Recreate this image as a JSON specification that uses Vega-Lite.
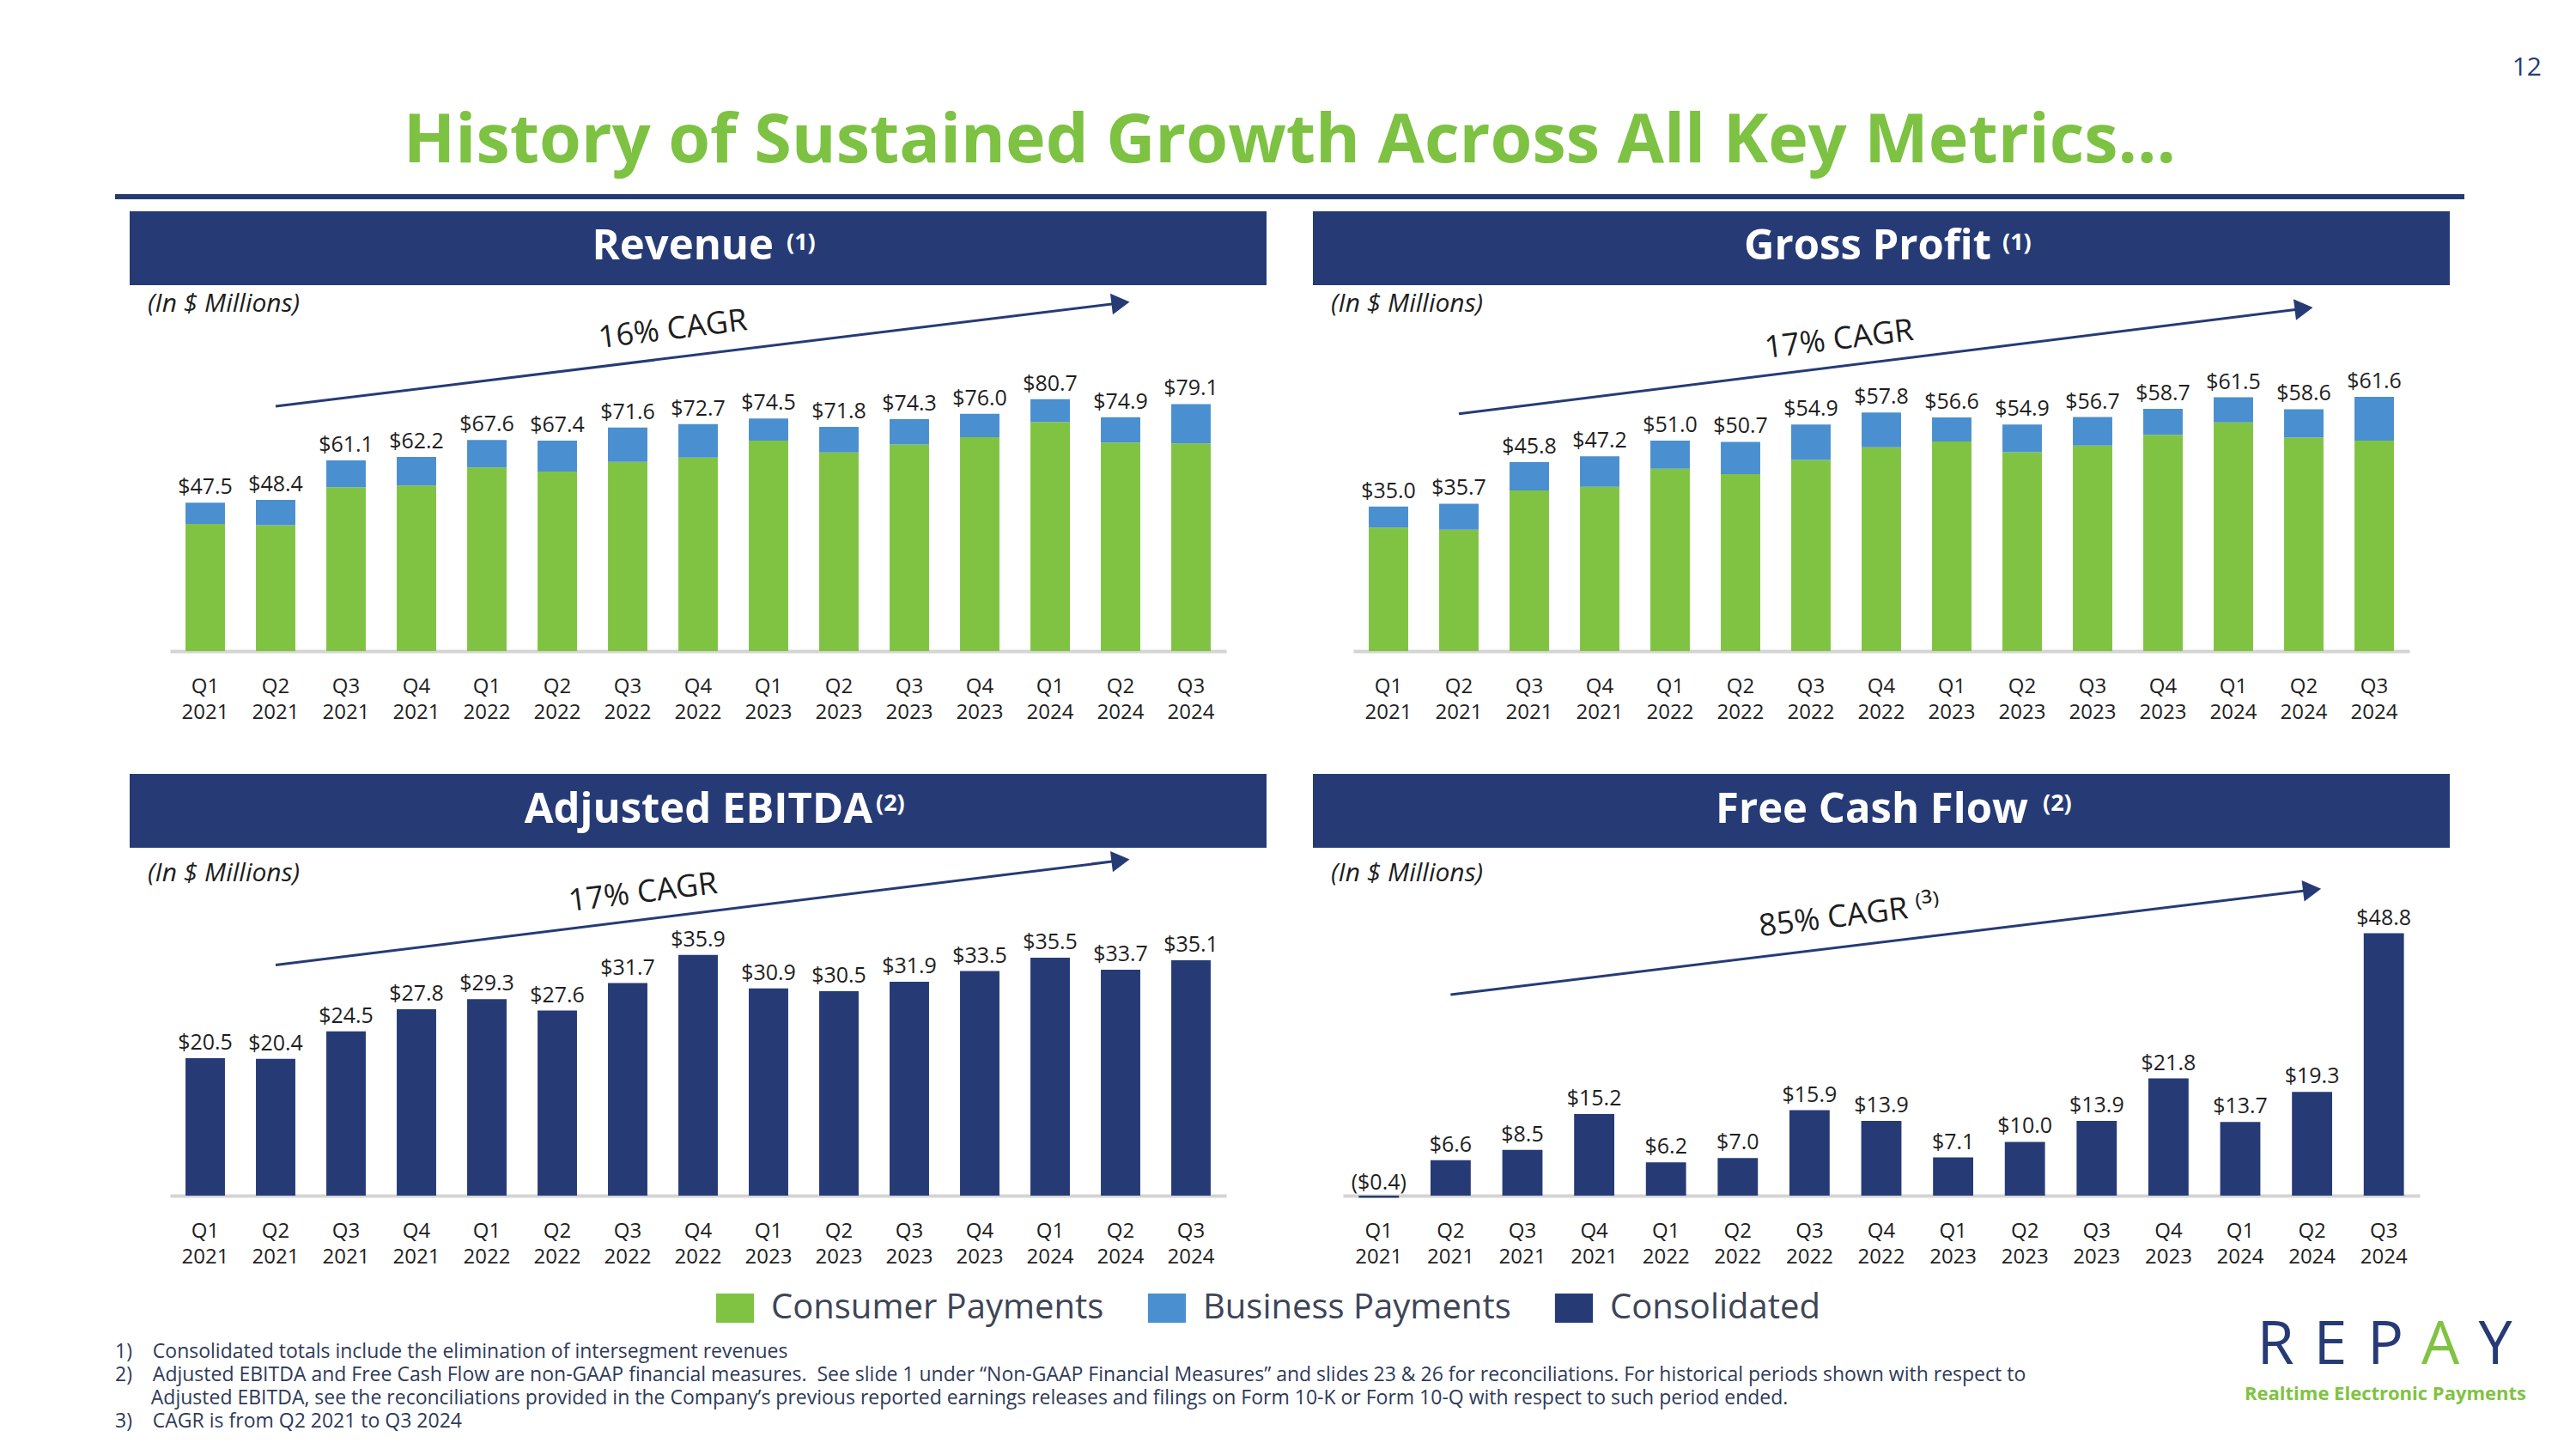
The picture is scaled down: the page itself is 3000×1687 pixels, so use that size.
{
  "$schema": "https://vega.github.io/schema/vega-lite/v6.json",
  "background": "white",
  "padding": {"left": 134, "top": 64, "right": 20, "bottom": 8},
  "title": {"text": "12", "anchor": "end", "fontSize": 30, "fontWeight": "normal", "color": "#263B76", "offset": 8, "dx": 18, "baseline": "alphabetic"},
  "config": {
    "font": "Open Sans",
    "view": {"stroke": null},
    "axisX": {"labelFontSize": 24, "labelColor": "#1E1E1E", "labelLineHeight": 30, "labelPadding": 29, "labelAngle": 0, "ticks": false, "domainColor": "#D4D4D4", "domainWidth": 4, "grid": false, "labelExpr": "split(datum.label, ' ')"},
    "text": {"font": "Open Sans"},
    "title": {"font": "Open Sans"}
  },
  "spacing": 12,
  "resolve": {"scale": {"color": "independent"}, "legend": {"color": "independent"}},
  "vconcat": [
    {
      "spacing": 12,
      "center": true,
      "vconcat": [
        {
          "width": 2736, "height": 6,
          "view": {"fill": "#263B76", "stroke": null},
          "title": {"text": "History of Sustained Growth Across All Key Metrics…", "anchor": "middle", "fontSize": 79, "fontWeight": "bold", "color": "#7DC242", "offset": -45, "baseline": "alphabetic"},
          "data": {"values": [{}]},
          "mark": {"type": "text", "text": ""}
        },
        {
          "spacing": 60,
          "vconcat": [
            {
              "spacing": 54,
              "hconcat": [
                {
                  "spacing": 8, "center": true, "bounds": "flush",
                  "vconcat": [
                    {
                      "width": 1324, "height": 86,
                      "view": {"fill": "#263B76", "stroke": null},
                      "data": {"values": [{"name": "Revenue", "note": "(1)"}]},
                      "title": {"text": "(In $ Millions)", "orient": "bottom", "anchor": "start", "frame": "group", "dx": 21, "offset": 7, "fontSize": 30, "fontStyle": "italic", "fontWeight": "normal", "color": "#1E1E1E"},
                      "layer": [
                        {"mark": {"type": "text", "align": "right", "baseline": "alphabetic", "dx": 88, "dy": 13, "fontSize": 49, "fontWeight": "bold", "color": "white"}, "encoding": {"text": {"field": "name"}}},
                        {"mark": {"type": "text", "align": "left", "baseline": "alphabetic", "dx": 103, "dy": 2, "fontSize": 27, "fontWeight": "bold", "color": "white"}, "encoding": {"text": {"field": "note"}}}
                      ]
                    },
                    {
                      "width": 1230, "height": 418,
                      "encoding": {
                        "x": {"field": "q", "type": "ordinal", "sort": null, "title": null, "scale": {"domain": ["Q1 2021","Q2 2021","Q3 2021","Q4 2021","Q1 2022","Q2 2022","Q3 2022","Q4 2022","Q1 2023","Q2 2023","Q3 2023","Q4 2023","Q1 2024","Q2 2024","Q3 2024"], "paddingInner": 0.44, "paddingOuter": 0.22}},
                        "y": {"field": "v", "type": "quantitative", "scale": {"domain": [0, 115], "nice": false}, "axis": null}
                      },
                      "layer": [
                        {
                          "data": {"name": "revenue", "values": [
                            {"q": "Q1 2021", "segment": "Consumer Payments", "v": 40.7}, {"q": "Q1 2021", "segment": "Business Payments", "v": 6.8},
                            {"q": "Q2 2021", "segment": "Consumer Payments", "v": 40.3}, {"q": "Q2 2021", "segment": "Business Payments", "v": 8.1},
                            {"q": "Q3 2021", "segment": "Consumer Payments", "v": 52.5}, {"q": "Q3 2021", "segment": "Business Payments", "v": 8.6},
                            {"q": "Q4 2021", "segment": "Consumer Payments", "v": 53.0}, {"q": "Q4 2021", "segment": "Business Payments", "v": 9.2},
                            {"q": "Q1 2022", "segment": "Consumer Payments", "v": 58.8}, {"q": "Q1 2022", "segment": "Business Payments", "v": 8.8},
                            {"q": "Q2 2022", "segment": "Consumer Payments", "v": 57.5}, {"q": "Q2 2022", "segment": "Business Payments", "v": 9.9},
                            {"q": "Q3 2022", "segment": "Consumer Payments", "v": 60.6}, {"q": "Q3 2022", "segment": "Business Payments", "v": 11.0},
                            {"q": "Q4 2022", "segment": "Consumer Payments", "v": 62.0}, {"q": "Q4 2022", "segment": "Business Payments", "v": 10.7},
                            {"q": "Q1 2023", "segment": "Consumer Payments", "v": 67.4}, {"q": "Q1 2023", "segment": "Business Payments", "v": 7.1},
                            {"q": "Q2 2023", "segment": "Consumer Payments", "v": 63.6}, {"q": "Q2 2023", "segment": "Business Payments", "v": 8.2},
                            {"q": "Q3 2023", "segment": "Consumer Payments", "v": 66.2}, {"q": "Q3 2023", "segment": "Business Payments", "v": 8.1},
                            {"q": "Q4 2023", "segment": "Consumer Payments", "v": 68.5}, {"q": "Q4 2023", "segment": "Business Payments", "v": 7.5},
                            {"q": "Q1 2024", "segment": "Consumer Payments", "v": 73.4}, {"q": "Q1 2024", "segment": "Business Payments", "v": 7.3},
                            {"q": "Q2 2024", "segment": "Consumer Payments", "v": 66.8}, {"q": "Q2 2024", "segment": "Business Payments", "v": 8.1},
                            {"q": "Q3 2024", "segment": "Consumer Payments", "v": 66.5}, {"q": "Q3 2024", "segment": "Business Payments", "v": 12.6}
                          ]},
                          "mark": {"type": "bar"},
                          "encoding": {
                            "detail": {"field": "segment", "type": "nominal"},
                            "order": {"field": "segment", "type": "nominal", "sort": "descending"},
                            "color": {"condition": {"test": "datum.segment === 'Business Payments'", "value": "#4A8FCF"}, "value": "#80C342"}
                          }
                        },
                        {
                          "data": {"name": "revenue"},
                          "transform": [{"aggregate": [{"op": "sum", "field": "v", "as": "v"}], "groupby": ["q"]}],
                          "mark": {"type": "text", "baseline": "alphabetic", "dy": -10, "fontSize": 25, "color": "#1E1E1E"},
                          "encoding": {"text": {"field": "v", "type": "quantitative", "format": "($.1f"}}
                        },
                        {
                          "data": {"values": [{"q": "Q2 2021", "v": 78.4}, {"q": "Q2 2024", "v": 111.5}]},
                          "mark": {"type": "line", "color": "#263B76", "strokeWidth": 3},
                          "encoding": {}
                        },
                        {
                          "data": {"values": [{"q": "Q2 2024", "v": 111.5}]},
                          "mark": {"type": "point", "shape": "triangle-right", "size": 600, "filled": true, "opacity": 1, "color": "#263B76", "angle": 353},
                          "encoding": {}
                        },
                        {
                          "data": {"values": [{"q": "Q3 2022", "v": 101.2, "label": "16% CAGR"}]},
                          "mark": {"type": "text", "angle": 353, "dx": 53, "fontSize": 36, "color": "#1E1E1E", "baseline": "middle"},
                          "encoding": {"text": {"field": "label"}}
                        }
                      ]
                    }
                  ]
                },
                {
                  "spacing": 8, "center": true, "bounds": "flush",
                  "vconcat": [
                    {
                      "width": 1324, "height": 86,
                      "view": {"fill": "#263B76", "stroke": null},
                      "data": {"values": [{"name": "Gross Profit", "note": "(1)"}]},
                      "title": {"text": "(In $ Millions)", "orient": "bottom", "anchor": "start", "frame": "group", "dx": 21, "offset": 7, "fontSize": 30, "fontStyle": "italic", "fontWeight": "normal", "color": "#1E1E1E"},
                      "layer": [
                        {"mark": {"type": "text", "align": "right", "baseline": "alphabetic", "dx": 128, "dy": 13, "fontSize": 49, "fontWeight": "bold", "color": "white"}, "encoding": {"text": {"field": "name"}}},
                        {"mark": {"type": "text", "align": "left", "baseline": "alphabetic", "dx": 141, "dy": 2, "fontSize": 27, "fontWeight": "bold", "color": "white"}, "encoding": {"text": {"field": "note"}}}
                      ]
                    },
                    {
                      "width": 1230, "height": 418,
                      "encoding": {
                        "x": {"field": "q", "type": "ordinal", "sort": null, "title": null, "scale": {"domain": ["Q1 2021","Q2 2021","Q3 2021","Q4 2021","Q1 2022","Q2 2022","Q3 2022","Q4 2022","Q1 2023","Q2 2023","Q3 2023","Q4 2023","Q1 2024","Q2 2024","Q3 2024"], "paddingInner": 0.44, "paddingOuter": 0.22}},
                        "y": {"field": "v", "type": "quantitative", "scale": {"domain": [0, 87], "nice": false}, "axis": null}
                      },
                      "layer": [
                        {
                          "data": {"name": "grossprofit", "values": [
                            {"q": "Q1 2021", "segment": "Consumer Payments", "v": 29.9}, {"q": "Q1 2021", "segment": "Business Payments", "v": 5.1},
                            {"q": "Q2 2021", "segment": "Consumer Payments", "v": 29.4}, {"q": "Q2 2021", "segment": "Business Payments", "v": 6.3},
                            {"q": "Q3 2021", "segment": "Consumer Payments", "v": 38.9}, {"q": "Q3 2021", "segment": "Business Payments", "v": 6.9},
                            {"q": "Q4 2021", "segment": "Consumer Payments", "v": 39.8}, {"q": "Q4 2021", "segment": "Business Payments", "v": 7.4},
                            {"q": "Q1 2022", "segment": "Consumer Payments", "v": 44.2}, {"q": "Q1 2022", "segment": "Business Payments", "v": 6.8},
                            {"q": "Q2 2022", "segment": "Consumer Payments", "v": 42.9}, {"q": "Q2 2022", "segment": "Business Payments", "v": 7.8},
                            {"q": "Q3 2022", "segment": "Consumer Payments", "v": 46.3}, {"q": "Q3 2022", "segment": "Business Payments", "v": 8.6},
                            {"q": "Q4 2022", "segment": "Consumer Payments", "v": 49.4}, {"q": "Q4 2022", "segment": "Business Payments", "v": 8.4},
                            {"q": "Q1 2023", "segment": "Consumer Payments", "v": 50.8}, {"q": "Q1 2023", "segment": "Business Payments", "v": 5.8},
                            {"q": "Q2 2023", "segment": "Consumer Payments", "v": 48.2}, {"q": "Q2 2023", "segment": "Business Payments", "v": 6.7},
                            {"q": "Q3 2023", "segment": "Consumer Payments", "v": 49.8}, {"q": "Q3 2023", "segment": "Business Payments", "v": 6.9},
                            {"q": "Q4 2023", "segment": "Consumer Payments", "v": 52.4}, {"q": "Q4 2023", "segment": "Business Payments", "v": 6.3},
                            {"q": "Q1 2024", "segment": "Consumer Payments", "v": 55.4}, {"q": "Q1 2024", "segment": "Business Payments", "v": 6.1},
                            {"q": "Q2 2024", "segment": "Consumer Payments", "v": 51.7}, {"q": "Q2 2024", "segment": "Business Payments", "v": 6.9},
                            {"q": "Q3 2024", "segment": "Consumer Payments", "v": 51.0}, {"q": "Q3 2024", "segment": "Business Payments", "v": 10.6}
                          ]},
                          "mark": {"type": "bar"},
                          "encoding": {
                            "detail": {"field": "segment", "type": "nominal"},
                            "order": {"field": "segment", "type": "nominal", "sort": "descending"},
                            "color": {"condition": {"test": "datum.segment === 'Business Payments'", "value": "#4A8FCF"}, "value": "#80C342"}
                          }
                        },
                        {
                          "data": {"name": "grossprofit"},
                          "transform": [{"aggregate": [{"op": "sum", "field": "v", "as": "v"}], "groupby": ["q"]}],
                          "mark": {"type": "text", "baseline": "alphabetic", "dy": -10, "fontSize": 25, "color": "#1E1E1E"},
                          "encoding": {"text": {"field": "v", "type": "quantitative", "format": "($.1f"}}
                        },
                        {
                          "data": {"values": [{"q": "Q2 2021", "v": 57.5}, {"q": "Q2 2024", "v": 83.0}]},
                          "mark": {"type": "line", "color": "#263B76", "strokeWidth": 3},
                          "encoding": {}
                        },
                        {
                          "data": {"values": [{"q": "Q2 2024", "v": 83.0}]},
                          "mark": {"type": "point", "shape": "triangle-right", "size": 600, "filled": true, "opacity": 1, "color": "#263B76", "angle": 353},
                          "encoding": {}
                        },
                        {
                          "data": {"values": [{"q": "Q3 2022", "v": 74.6, "label": "17% CAGR"}]},
                          "mark": {"type": "text", "angle": 353, "dx": 33, "fontSize": 36, "color": "#1E1E1E", "baseline": "middle"},
                          "encoding": {"text": {"field": "label"}}
                        }
                      ]
                    }
                  ]
                }
              ]
            },
            {
              "spacing": 54,
              "hconcat": [
                {
                  "spacing": 7, "center": true, "bounds": "flush",
                  "vconcat": [
                    {
                      "width": 1324, "height": 86,
                      "view": {"fill": "#263B76", "stroke": null},
                      "data": {"values": [{"name": "Adjusted EBITDA", "note": "(2)"}]},
                      "title": {"text": "(In $ Millions)", "orient": "bottom", "anchor": "start", "frame": "group", "dx": 21, "offset": 15, "fontSize": 30, "fontStyle": "italic", "fontWeight": "normal", "color": "#1E1E1E"},
                      "layer": [
                        {"mark": {"type": "text", "align": "right", "baseline": "alphabetic", "dx": 203, "dy": 14, "fontSize": 49, "fontWeight": "bold", "color": "white"}, "encoding": {"text": {"field": "name"}}},
                        {"mark": {"type": "text", "align": "left", "baseline": "alphabetic", "dx": 207, "dy": 0, "fontSize": 27, "fontWeight": "bold", "color": "white"}, "encoding": {"text": {"field": "note"}}}
                      ]
                    },
                    {
                      "width": 1230, "height": 398,
                      "encoding": {
                        "x": {"field": "q", "type": "ordinal", "sort": null, "title": null, "scale": {"domain": ["Q1 2021","Q2 2021","Q3 2021","Q4 2021","Q1 2022","Q2 2022","Q3 2022","Q4 2022","Q1 2023","Q2 2023","Q3 2023","Q4 2023","Q1 2024","Q2 2024","Q3 2024"], "paddingInner": 0.44, "paddingOuter": 0.22}},
                        "y": {"field": "v", "type": "quantitative", "scale": {"domain": [0, 51], "nice": false}, "axis": null}
                      },
                      "layer": [
                        {
                          "data": {"name": "ebitda", "values": [
                            {"q": "Q1 2021", "v": 20.5}, {"q": "Q2 2021", "v": 20.4}, {"q": "Q3 2021", "v": 24.5}, {"q": "Q4 2021", "v": 27.8},
                            {"q": "Q1 2022", "v": 29.3}, {"q": "Q2 2022", "v": 27.6}, {"q": "Q3 2022", "v": 31.7}, {"q": "Q4 2022", "v": 35.9},
                            {"q": "Q1 2023", "v": 30.9}, {"q": "Q2 2023", "v": 30.5}, {"q": "Q3 2023", "v": 31.9}, {"q": "Q4 2023", "v": 33.5},
                            {"q": "Q1 2024", "v": 35.5}, {"q": "Q2 2024", "v": 33.7}, {"q": "Q3 2024", "v": 35.1}
                          ]},
                          "mark": {"type": "bar", "color": "#263B76"}
                        },
                        {
                          "data": {"name": "ebitda"},
                          "mark": {"type": "text", "baseline": "alphabetic", "dy": -10, "fontSize": 25, "color": "#1E1E1E"},
                          "encoding": {"text": {"field": "v", "type": "quantitative", "format": "($.1f"}}
                        },
                        {
                          "data": {"values": [{"q": "Q2 2021", "v": 34.4}, {"q": "Q2 2024", "v": 50.0}]},
                          "mark": {"type": "line", "color": "#263B76", "strokeWidth": 3},
                          "encoding": {}
                        },
                        {
                          "data": {"values": [{"q": "Q2 2024", "v": 50.0}]},
                          "mark": {"type": "point", "shape": "triangle-right", "size": 600, "filled": true, "opacity": 1, "color": "#263B76", "angle": 353},
                          "encoding": {}
                        },
                        {
                          "data": {"values": [{"q": "Q3 2022", "v": 44.9, "label": "17% CAGR"}]},
                          "mark": {"type": "text", "angle": 353, "dx": 18, "fontSize": 36, "color": "#1E1E1E", "baseline": "middle"},
                          "encoding": {"text": {"field": "label"}}
                        }
                      ]
                    }
                  ]
                },
                {
                  "spacing": 7, "center": true, "bounds": "flush",
                  "vconcat": [
                    {
                      "width": 1324, "height": 86,
                      "view": {"fill": "#263B76", "stroke": null},
                      "data": {"values": [{"name": "Free Cash Flow", "note": "(2)"}]},
                      "title": {"text": "(In $ Millions)", "orient": "bottom", "anchor": "start", "frame": "group", "dx": 21, "offset": 15, "fontSize": 30, "fontStyle": "italic", "fontWeight": "normal", "color": "#1E1E1E"},
                      "layer": [
                        {"mark": {"type": "text", "align": "right", "baseline": "alphabetic", "dx": 171, "dy": 14, "fontSize": 49, "fontWeight": "bold", "color": "white"}, "encoding": {"text": {"field": "name"}}},
                        {"mark": {"type": "text", "align": "left", "baseline": "alphabetic", "dx": 188, "dy": 0, "fontSize": 27, "fontWeight": "bold", "color": "white"}, "encoding": {"text": {"field": "note"}}}
                      ]
                    },
                    {
                      "width": 1254, "height": 398,
                      "encoding": {
                        "x": {"field": "q", "type": "ordinal", "sort": null, "title": null, "scale": {"domain": ["Q1 2021","Q2 2021","Q3 2021","Q4 2021","Q1 2022","Q2 2022","Q3 2022","Q4 2022","Q1 2023","Q2 2023","Q3 2023","Q4 2023","Q1 2024","Q2 2024","Q3 2024"], "paddingInner": 0.44, "paddingOuter": 0.22}},
                        "y": {"field": "v", "type": "quantitative", "scale": {"domain": [0, 63.6], "nice": false}, "axis": null}
                      },
                      "layer": [
                        {
                          "data": {"name": "fcf", "values": [
                            {"q": "Q1 2021", "v": -0.4}, {"q": "Q2 2021", "v": 6.6}, {"q": "Q3 2021", "v": 8.5}, {"q": "Q4 2021", "v": 15.2},
                            {"q": "Q1 2022", "v": 6.2}, {"q": "Q2 2022", "v": 7.0}, {"q": "Q3 2022", "v": 15.9}, {"q": "Q4 2022", "v": 13.9},
                            {"q": "Q1 2023", "v": 7.1}, {"q": "Q2 2023", "v": 10.0}, {"q": "Q3 2023", "v": 13.9}, {"q": "Q4 2023", "v": 21.8},
                            {"q": "Q1 2024", "v": 13.7}, {"q": "Q2 2024", "v": 19.3}, {"q": "Q3 2024", "v": 48.8}
                          ]},
                          "mark": {"type": "bar", "color": "#263B76"}
                        },
                        {
                          "data": {"name": "fcf"},
                          "mark": {"type": "text", "baseline": "alphabetic", "dy": -10, "fontSize": 25, "color": "#1E1E1E"},
                          "encoding": {"text": {"field": "v", "type": "quantitative", "format": "($.1f"}}
                        },
                        {
                          "data": {"values": [{"q": "Q2 2021", "v": 37.4}, {"q": "Q2 2024", "v": 56.9}]},
                          "mark": {"type": "line", "color": "#263B76", "strokeWidth": 3},
                          "encoding": {}
                        },
                        {
                          "data": {"values": [{"q": "Q2 2024", "v": 56.9}]},
                          "mark": {"type": "point", "shape": "triangle-right", "size": 600, "filled": true, "opacity": 1, "color": "#263B76", "angle": 353},
                          "encoding": {}
                        },
                        {
                          "data": {"values": [{"q": "Q3 2022", "v": 51.1, "label": "85% CAGR ⁽³⁾"}]},
                          "mark": {"type": "text", "angle": 353, "dx": 47, "fontSize": 36, "color": "#1E1E1E", "baseline": "middle"},
                          "encoding": {"text": {"field": "label"}}
                        }
                      ]
                    }
                  ]
                }
              ]
            }
          ]
        }
      ]
    },
    {
      "spacing": 0,
      "resolve": {"scale": {"color": "independent"}, "legend": {"color": "independent"}},
      "hconcat": [
        {
          "width": 2480, "height": 50,
          "data": {"values": [{"segment": "Consumer Payments"}, {"segment": "Business Payments"}, {"segment": "Consolidated"}]},
          "mark": {"type": "point", "filled": true, "opacity": 0},
          "encoding": {
            "color": {
              "field": "segment", "type": "nominal", "sort": null,
              "scale": {"domain": ["Consumer Payments", "Business Payments", "Consolidated"], "range": ["#80C342", "#4A8FCF", "#263B76"]},
              "legend": {"orient": "none", "legendX": 702, "legendY": 16, "direction": "horizontal", "title": null, "symbolType": "M-1.3,-1L1.3,-1L1.3,1L-1.3,1Z", "symbolSize": 1156, "symbolOpacity": 1, "symbolStrokeWidth": 0, "labelFontSize": 40, "labelColor": "#3D4558", "labelOffset": 22, "columnPadding": 50, "labelLimit": 0}
            }
          },
          "title": {
            "text": [
              "1)\u00a0\u00a0\u00a0\u00a0Consolidated totals include the elimination of intersegment revenues",
              "2)\u00a0\u00a0\u00a0\u00a0Adjusted EBITDA and Free Cash Flow are non-GAAP financial measures.\u00a0 See slide 1 under “Non-GAAP Financial Measures” and slides 23 & 26 for reconciliations. For historical periods shown with respect to",
              "\u200b\u00a0\u00a0\u00a0\u00a0\u00a0\u00a0\u00a0Adjusted EBITDA, see the reconciliations provided in the Company’s previous reported earnings releases and filings on Form 10-K or Form 10-Q with respect to such period ended.",
              "3)\u00a0\u00a0\u00a0\u00a0CAGR is from Q2 2021 to Q3 2024"
            ],
            "orient": "bottom", "anchor": "start", "frame": "group", "offset": 20, "fontSize": 23, "lineHeight": 27, "fontWeight": "normal", "color": "#2E3A59"
          }
        },
        {
          "width": 320, "height": 160,
          "layer": [
            {
              "data": {"values": [{"ch": "R"}, {"ch": "E"}, {"ch": "P"}, {"ch": "A"}, {"ch": "Y"}]},
              "mark": {"type": "text", "fontSize": 70, "fontWeight": 400, "baseline": "middle"},
              "encoding": {
                "x": {"field": "ch", "type": "nominal", "sort": null, "scale": {"type": "point", "padding": 0.5}, "axis": null},
                "text": {"field": "ch"},
                "color": {"condition": {"test": "datum.ch === 'A'", "value": "#80C342"}, "value": "#263B76"}
              }
            },
            {
              "data": {"values": [{"tag": "Realtime Electronic Payments"}]},
              "mark": {"type": "text", "fontSize": 22, "fontWeight": "bold", "color": "#80C342", "baseline": "middle", "dy": 56},
              "encoding": {"text": {"field": "tag"}}
            }
          ]
        }
      ]
    }
  ]
}
